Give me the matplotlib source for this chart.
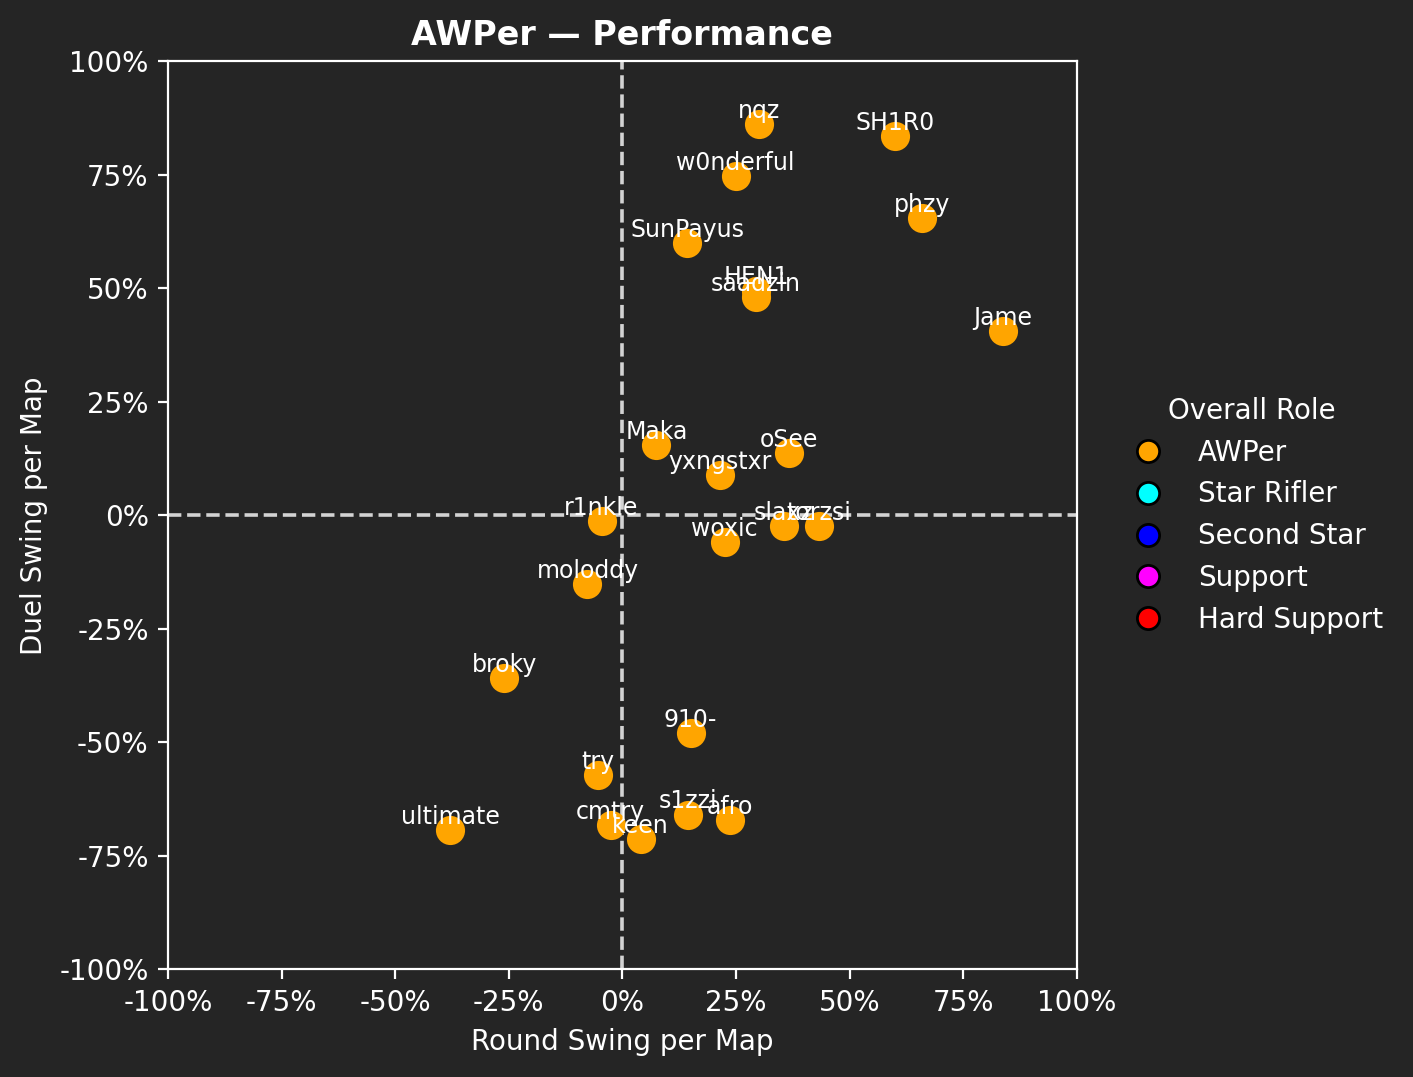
import matplotlib
matplotlib.use('Agg')
import matplotlib.pyplot as plt
from matplotlib.lines import Line2D
from matplotlib.ticker import FuncFormatter

players = ['nqz', 'SH1R0', 'w0nderful', 'phzy', 'SunPayus', 'HEN1', 'saadzin', 'Jame',
           'Maka', 'oSee', 'yxngstxr', 'r1nkle', 'slaxz', 'torzsi', 'woxic', 'moloddy',
           'broky', '910-', 'try', 's1zzi', 'afro', 'cmtry', 'keen', 'ultimate']
round_swing = [30.0, 60.1, 24.9, 65.9, 14.3, 29.5, 29.3, 83.7,
               7.5, 36.6, 21.4, -4.6, 35.5, 43.2, 22.5, -7.7,
               -26.0, 15.0, -5.3, 14.5, 23.6, -2.6, 4.0, -37.9]
duel_swing = [86.1, 83.5, 74.7, 65.4, 59.9, 49.5, 48.0, 40.5,
              15.4, 13.7, 8.8, -1.3, -2.4, -2.4, -5.9, -15.2,
              -35.9, -48.0, -57.3, -65.9, -67.2, -68.3, -71.4, -69.4]
roles = ['AWPer', 'Star Rifler', 'Second Star', 'Support', 'Hard Support']
role_colors = ['orange', 'cyan', 'blue', 'magenta', 'red']

bg = '#252525'
plt.rcParams.update({'text.color': 'white', 'axes.labelcolor': 'white',
                     'xtick.color': 'white', 'ytick.color': 'white',
                     'axes.edgecolor': 'white'})
fig, ax = plt.subplots(figsize=(7.065, 5.385), dpi=200)
fig.patch.set_facecolor(bg)
ax.set_facecolor(bg)

ax.scatter(round_swing, duel_swing, s=90, color='orange', zorder=3)
for name, x, y in zip(players, round_swing, duel_swing):
    ax.annotate(name, (x, y), xytext=(0, 0.5), textcoords='offset points',
                ha='center', va='bottom', fontsize=8.5, color='white', zorder=4)

ax.axhline(0, color='lightgray', ls='--', lw=1.3)
ax.axvline(0, color='lightgray', ls='--', lw=1.3)
ax.set_xlim(-100, 100)
ax.set_ylim(-100, 100)
ticks = [-100, -75, -50, -25, 0, 25, 50, 75, 100]
ax.set_xticks(ticks)
ax.set_yticks(ticks)
fmt = FuncFormatter(lambda v, p: f'{v:.0f}%')
ax.xaxis.set_major_formatter(fmt)
ax.yaxis.set_major_formatter(fmt)
ax.set_xlabel('Round Swing per Map')
ax.set_ylabel('Duel Swing per Map')
ax.set_title('AWPer — Performance', fontweight='bold', color='white')

handles = [Line2D([], [], marker='o', ls='', markerfacecolor=c, markeredgecolor='black',
                  markersize=8, label=r) for r, c in zip(roles, role_colors)]
leg = ax.legend(handles=handles, title='Overall Role', loc='center left',
                bbox_to_anchor=(1.02, 0.5), frameon=False)
plt.setp(leg.get_title(), color='white')

fig.subplots_adjust(left=0.119, right=0.762, bottom=0.1, top=0.943)
fig.savefig('out.png', facecolor=bg)
